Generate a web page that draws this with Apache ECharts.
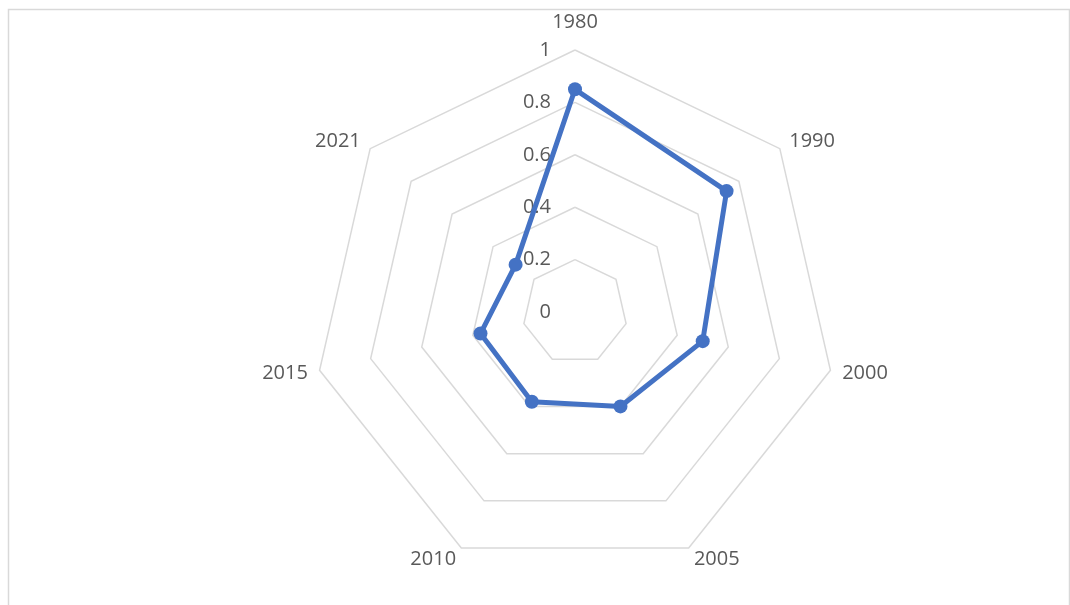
<!DOCTYPE html>
<html>
<head>
<meta charset="utf-8">
<title>Radar</title>
<script src="https://cdn.jsdelivr.net/npm/echarts@6/dist/echarts.min.js"></script>
<style>
  html, body { margin: 0; padding: 0; background: #fff; }
  #chart { width: 1070px; height: 605px; }
</style>
</head>
<body>
<div id="chart"></div>
<script>
// years, clockwise from the top
const years = ['1980', '1990', '2000', '2005', '2010', '2015', '2021']
const values = [0.85, 0.74, 0.5, 0.4, 0.38, 0.37, 0.29]
const ticks = [0, 0.2, 0.4, 0.6, 0.8, 1]

// echarts places indicators counter-clockwise, so keep the first and reverse the rest
const order = [0].concat(years.map((y, i) => i).slice(1).reverse())

const chart = echarts.init(document.getElementById('chart'))
chart.setOption({
  backgroundColor: '#fff',
  textStyle: { fontFamily: 'Open Sans' },
  graphic: [{
    type: 'rect',
    shape: { x: 8.5, y: 9.5, width: 1061, height: 600 },
    style: { fill: 'none', stroke: '#d9d9d9', lineWidth: 1.5 },
    silent: true
  }],
  radar: {
    center: [575, 312],
    radius: 262,
    startAngle: 90,
    shape: 'polygon',
    splitNumber: ticks.length - 1,
    nameGap: 12,
    axisName: {
      color: '#595959',
      fontSize: 20,
      fontFamily: 'Open Sans',
      // the top name sits a little higher in the reference
      formatter: name => name === years[0] ? '{top|' + name + '}' : name,
      rich: { top: { color: '#595959', fontSize: 20, fontFamily: 'Open Sans', padding: [0, 0, 6, 0] } }
    },
    axisLine: { show: false },
    axisTick: { show: false },
    splitArea: { show: false },
    splitLine: { lineStyle: { color: '#d9d9d9', width: 1.5 } },
    axisLabel: { show: false, color: '#595959', fontSize: 20, margin: 24, fontFamily: 'Open Sans' },
    indicator: order.map((i, k) => ({
      name: years[i],
      min: ticks[0],
      max: ticks[ticks.length - 1],
      axisLabel: { show: k === 0 }
    }))
  },
  series: [{
    type: 'radar',
    symbol: 'circle',
    symbolSize: 14,
    lineStyle: { color: '#4472c4', width: 5 },
    itemStyle: { color: '#4472c4' },
    data: [{ value: order.map(i => values[i]) }]
  }]
})
</script>
</body>
</html>
